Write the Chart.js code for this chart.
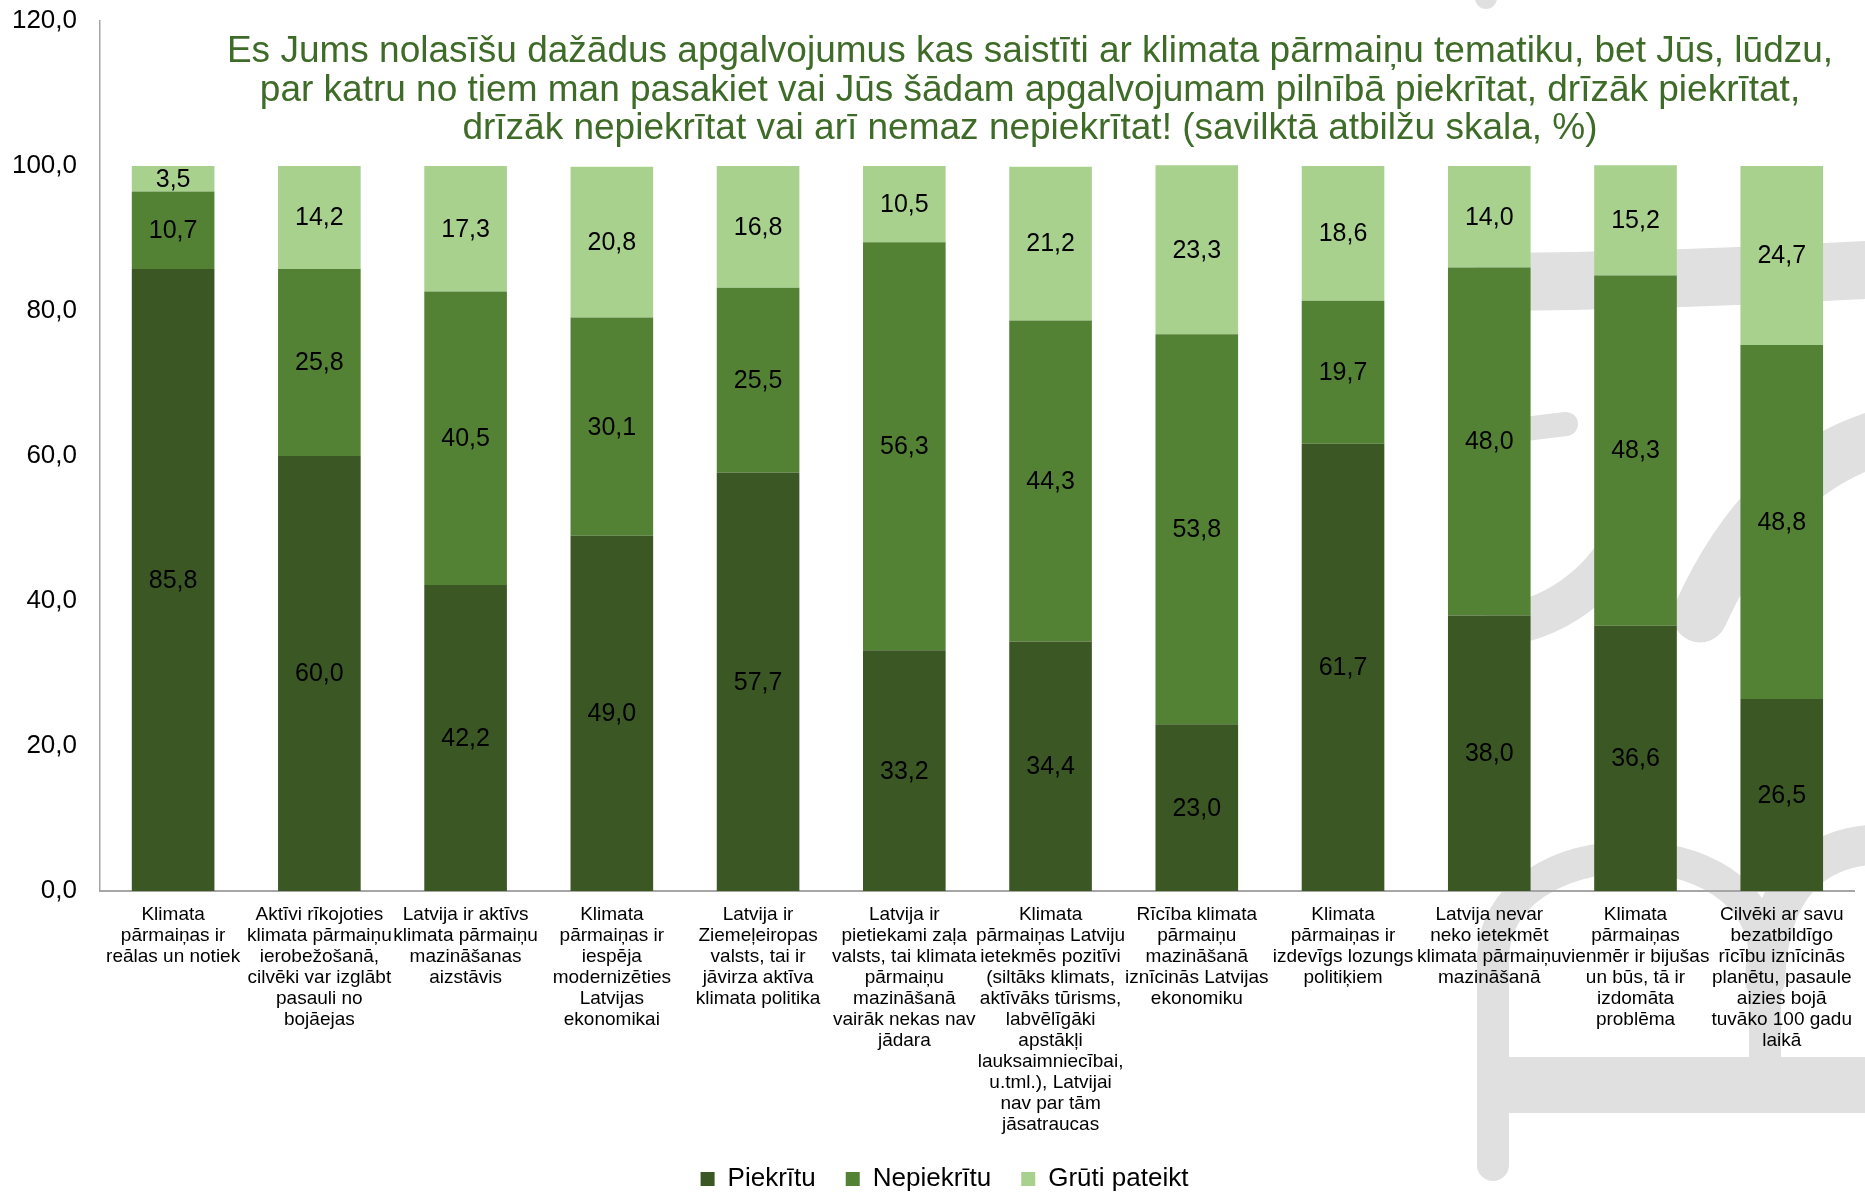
<!DOCTYPE html>
<html>
<head>
<meta charset="utf-8">
<script src="https://cdn.jsdelivr.net/npm/chart.js@4.4.1/dist/chart.umd.min.js"></script>
<style>
html, body { margin: 0; padding: 0; background: #fff; }
#wrap { width: 1865px; height: 1192px; position: relative; }
</style>
</head>
<body>
<div id="wrap"><canvas id="grafiks"></canvas></div>
<script>
// kategorijas (x ass), jau sadalītas rindās kā oriģinālā
const kategorijas = [
    ["Klimata", "pārmaiņas ir", "reālas un notiek"],
    ["Aktīvi rīkojoties", "klimata pārmaiņu", "ierobežošanā,", "cilvēki var izglābt", "pasauli no", "bojāejas"],
    ["Latvija ir aktīvs", "klimata pārmaiņu", "mazināšanas", "aizstāvis"],
    ["Klimata", "pārmaiņas ir", "iespēja", "modernizēties", "Latvijas", "ekonomikai"],
    ["Latvija ir", "Ziemeļeiropas", "valsts, tai ir", "jāvirza aktīva", "klimata politika"],
    ["Latvija ir", "pietiekami zaļa", "valsts, tai klimata", "pārmaiņu", "mazināšanā", "vairāk nekas nav", "jādara"],
    ["Klimata", "pārmaiņas Latviju", "ietekmēs pozitīvi", "(siltāks klimats,", "aktīvāks tūrisms,", "labvēlīgāki", "apstākļi", "lauksaimniecībai,", "u.tml.), Latvijai", "nav par tām", "jāsatraucas"],
    ["Rīcība klimata", "pārmaiņu", "mazināšanā", "iznīcinās Latvijas", "ekonomiku"],
    ["Klimata", "pārmaiņas ir", "izdevīgs lozungs", "politiķiem"],
    ["Latvija nevar", "neko ietekmēt", "klimata pārmaiņu", "mazināšanā"],
    ["Klimata", "pārmaiņas", "vienmēr ir bijušas", "un būs, tā ir", "izdomāta", "problēma"],
    ["Cilvēki ar savu", "bezatbildīgo", "rīcību iznīcinās", "planētu, pasaule", "aizies bojā", "tuvāko 100 gadu", "laikā"]
]

const piekritu   = [85.8, 60.0, 42.2, 49.0, 57.7, 33.2, 34.4, 23.0, 61.7, 38.0, 36.6, 26.5]
const nepiekritu = [10.7, 25.8, 40.5, 30.1, 25.5, 56.3, 44.3, 53.8, 19.7, 48.0, 48.3, 48.8]
const gruti      = [3.5, 14.2, 17.3, 20.8, 16.8, 10.5, 21.2, 23.3, 18.6, 14.0, 15.2, 24.7]

const serijuNosaukumi = ["Piekrītu", "Nepiekrītu", "Grūti pateikt"]
const asisMax = 120
const asisSolis = 20

const virsraksts = [
    "Es Jums nolasīšu dažādus apgalvojumus kas saistīti ar klimata pārmaiņu tematiku, bet Jūs, lūdzu,",
    "par katru no tiem man pasakiet vai Jūs šādam apgalvojumam pilnībā piekrītat, drīzāk piekrītat,",
    "drīzāk nepiekrītat vai arī nemaz nepiekrītat! (savilktā atbilžu skala, %)"
]

const FONTS = '"Liberation Sans", Arial, sans-serif'
const formatet = (v) => v.toFixed(1).replace('.', ',')

// fons + pelēkā ūdenszīme
const fonaSpraudnis = {
    id: 'fons',
    beforeDraw(chart){
        const ctx = chart.ctx
        ctx.save()
        ctx.fillStyle = '#fff'
        ctx.fillRect(0, 0, chart.width, chart.height)

        ctx.strokeStyle = '#e0e0e0'
        ctx.fillStyle = '#e0e0e0'
        ctx.lineCap = 'round'

        ctx.beginPath()
        ctx.arc(1486, -2, 11, 0, Math.PI * 2)
        ctx.fill()

        // augšējā josla
        ctx.lineWidth = 58
        ctx.beginPath()
        ctx.moveTo(1500, 282)
        ctx.quadraticCurveTo(1700, 280, 1900, 268)
        ctx.stroke()

        // diagonāle
        ctx.lineWidth = 55
        ctx.beginPath()
        ctx.moveTo(1900, 432)
        ctx.quadraticCurveTo(1770, 460, 1700, 615)
        ctx.stroke()

        // pusmēness
        ctx.lineWidth = 42
        ctx.beginPath()
        ctx.arc(1480, 465, 162, 0.12 * Math.PI, 0.45 * Math.PI)
        ctx.stroke()

        // aste
        ctx.lineWidth = 24
        ctx.beginPath()
        ctx.moveTo(1500, 432)
        ctx.lineTo(1566, 424)
        ctx.stroke()

        // apakšējā arka
        ctx.lineWidth = 32
        ctx.beginPath()
        ctx.moveTo(1493, 1165)
        ctx.lineTo(1493, 960)
        ctx.bezierCurveTo(1493, 825, 1765, 820, 1765, 960)
        ctx.lineTo(1765, 1060)
        ctx.stroke()

        ctx.lineWidth = 40
        ctx.beginPath()
        ctx.moveTo(1765, 980)
        ctx.bezierCurveTo(1770, 860, 1840, 840, 1900, 845)
        ctx.stroke()

        ctx.fillRect(1480, 1057, 400, 56)
        ctx.restore()
    }
}

// leģendu nedaudz pa labi, kā oriģinālā
const legendasNobide = {
    id: 'legendasNobide',
    afterLayout(chart){
        chart.legend.left += 12
        chart.legend.right += 12
    }
}

// virsraksts plot laukumā
const virsrakstaSpraudnis = {
    id: 'virsraksts',
    afterDraw(chart){
        const ctx = chart.ctx
        ctx.save()
        ctx.font = '37px ' + FONTS
        ctx.fillStyle = '#3e6b27'
        ctx.textAlign = 'center'
        ctx.textBaseline = 'middle'
        virsraksts.forEach((rinda, i) => {
            ctx.fillText(rinda, 1030, 52 + i * 38.5)
        })
        ctx.restore()
    }
}

// vērtības stabiņu vidū
const vertibuSpraudnis = {
    id: 'vertibas',
    afterDatasetsDraw(chart){
        const ctx = chart.ctx
        ctx.save()
        ctx.font = '25px ' + FONTS
        ctx.fillStyle = '#000'
        ctx.textAlign = 'center'
        ctx.textBaseline = 'middle'
        chart.data.datasets.forEach((ds, i) => {
            const meta = chart.getDatasetMeta(i)
            meta.data.forEach((el, j) => {
                const y = (el.y + el.base) / 2
                ctx.fillText(formatet(ds.data[j]), el.x, y + 1)
            })
        })
        ctx.restore()
    }
}

const config = {
    type: 'bar',
    data: {
        labels: kategorijas,
        datasets: [{
            label: serijuNosaukumi[0],
            data: piekritu,
            backgroundColor: '#3a5724'
        },{
            label: serijuNosaukumi[1],
            data: nepiekritu,
            backgroundColor: '#548235'
        },{
            label: serijuNosaukumi[2],
            data: gruti,
            backgroundColor: '#a9d18e'
        }]
    },
    options: {
        responsive: true,
        maintainAspectRatio: false,
        animation: false,
        datasets: {
            bar: { barPercentage: 0.565, categoryPercentage: 1.0 }
        },
        layout: { padding: { top: 21, right: 0, bottom: -10, left: 0 } },
        scales: {
            x: {
                stacked: true,
                grid: { display: false, drawTicks: false },
                border: { display: true, color: '#a6a6a6', width: 2 },
                ticks: {
                    autoSkip: false,
                    maxRotation: 0,
                    minRotation: 0,
                    padding: 13,
                    color: '#000',
                    font: { family: FONTS, size: 19, lineHeight: 1.105 }
                },
                afterFit(scale){ scale.height = 245 }
            },
            y: {
                stacked: true,
                min: 0,
                max: asisMax,
                grid: { display: false, drawTicks: false },
                border: { display: true, color: '#a6a6a6', width: 1.5 },
                ticks: {
                    stepSize: asisSolis,
                    padding: 23,
                    color: '#000',
                    font: { family: FONTS, size: 26 },
                    callback: (v) => formatet(v)
                },
                afterFit(scale){
                    scale.width = 100
                    scale.paddingTop = 10
                }
            }
        },
        plugins: {
            legend: {
                position: 'bottom',
                labels: {
                    boxWidth: 14,
                    boxHeight: 14,
                    padding: 30,
                    color: '#000',
                    font: { family: FONTS, size: 26 }
                }
            },
            tooltip: { enabled: false }
        }
    },
    plugins: [fonaSpraudnis, legendasNobide, vertibuSpraudnis, virsrakstaSpraudnis]
}

const grafiks = new Chart(document.getElementById('grafiks'), config)
</script>
</body>
</html>
